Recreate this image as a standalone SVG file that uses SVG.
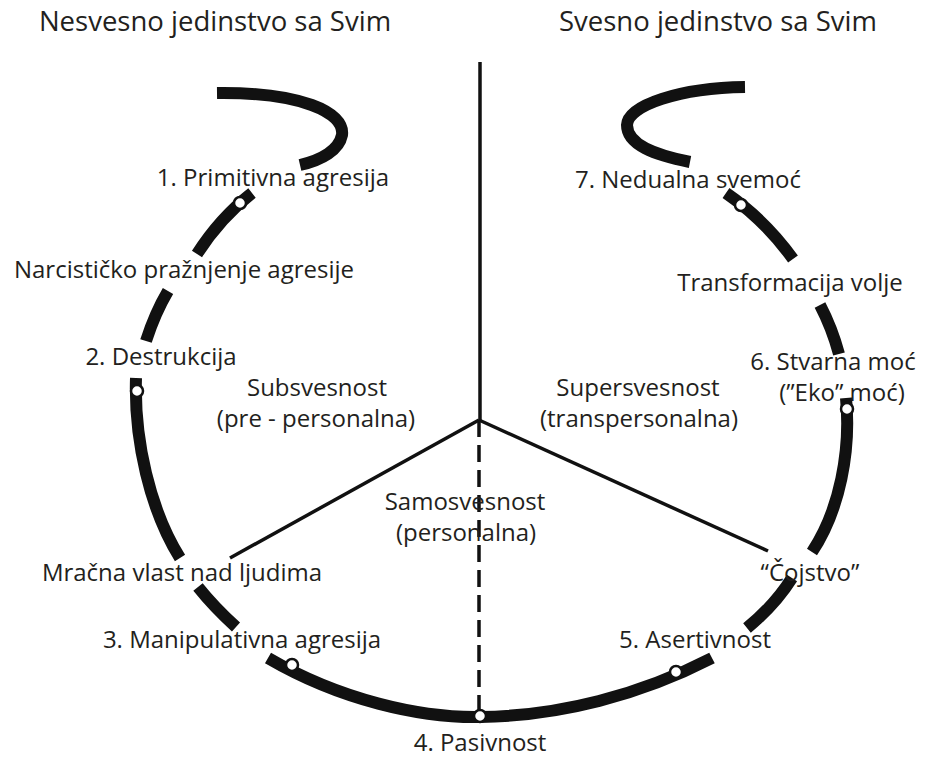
<svg xmlns="http://www.w3.org/2000/svg" width="940" height="757" viewBox="0 0 940 757">
<style>
text{font-family:"Open Sans","Noto Sans","Liberation Sans",sans-serif;fill:#231f20;text-anchor:middle;font-size:24px}
.title{font-size:27.5px}
.arc{fill:none;stroke:#111;stroke-width:12;stroke-linecap:butt}
.line{fill:none;stroke:#111;stroke-width:3.5}
.dash{fill:none;stroke:#111;stroke-width:3.5;stroke-dasharray:17 8}
.dot{fill:#fff;stroke:#111;stroke-width:2.5}
</style>
<rect width="940" height="757" fill="#fff"/>
<g id="titles">
<text class="title" x="215" y="31">Nesvesno jedinstvo sa Svim</text>
<text class="title" x="718" y="31">Svesno jedinstvo sa Svim</text>
</g>
<g id="ring">
<path class="arc" d="M217 93 C300 92 345 112 342 135 C339 150 322 160 300 165"/>
<path class="arc" d="M745 87 C680 88 628 105 627 125 C627 145 655 155 690 162"/>
<path class="arc" d="M252 193 Q220 218 197 254"/>
<path class="arc" d="M168 291 Q155 313 146 341"/>
<path class="arc" d="M136 378 C134 440 150 510 180 558"/>
<path class="arc" d="M198 587 Q214 607 236 627"/>
<path class="arc" d="M268 658 C340 700 420 718 480 717 C560 716 640 695 712 658"/>
<path class="arc" d="M747 628 Q775 605 792 578"/>
<path class="arc" d="M846 398 C851 450 840 510 812 552"/>
<path class="arc" d="M820 305 Q832 328 839 354"/>
<path class="arc" d="M726 193 Q765 220 793 259"/>
</g>
<g id="connectors">
<line class="line" x1="480" y1="62" x2="480" y2="420"/>
<line class="dash" x1="479" y1="420" x2="479" y2="710"/>
<line class="line" x1="479" y1="420" x2="230" y2="558"/>
<line class="line" x1="479" y1="420" x2="768" y2="551"/>
</g>
<g id="n1"><circle class="dot" cx="240" cy="203" r="6"/><text x="273" y="186">1. Primitivna agresija</text></g>
<g id="narc"><text x="184" y="278">Narcističko pražnjenje agresije</text></g>
<g id="n2"><circle class="dot" cx="137" cy="391" r="6"/><text x="161" y="365">2. Destrukcija</text></g>
<g id="subs"><text x="317" y="396">Subsvesnost</text><text x="316" y="427">(pre - personalna)</text></g>
<g id="super"><text x="638" y="396">Supersvesnost</text><text x="639" y="427">(transpersonalna)</text></g>
<g id="samo"><text x="465" y="510">Samosvesnost</text><text x="466" y="541">(personalna)</text></g>
<g id="mracna"><text x="182" y="581">Mračna vlast nad ljudima</text></g>
<g id="n3"><circle class="dot" cx="292" cy="665" r="6"/><text x="242" y="648">3. Manipulativna agresija</text></g>
<g id="n4"><circle class="dot" cx="480" cy="716" r="6"/><text x="480" y="751">4. Pasivnost</text></g>
<g id="n5"><circle class="dot" cx="676" cy="672" r="6"/><text x="695" y="648">5. Asertivnost</text></g>
<g id="cojstvo"><text x="810" y="581">“Čojstvo”</text></g>
<g id="n6"><circle class="dot" cx="847" cy="409" r="6"/><text x="833" y="370">6. Stvarna moć</text><text x="842" y="401">(”Eko” moć)</text></g>
<g id="transf"><text x="790" y="291">Transformacija volje</text></g>
<g id="n7"><circle class="dot" cx="741" cy="205" r="6"/><text x="688" y="188">7. Nedualna svemoć</text></g>
</svg>
